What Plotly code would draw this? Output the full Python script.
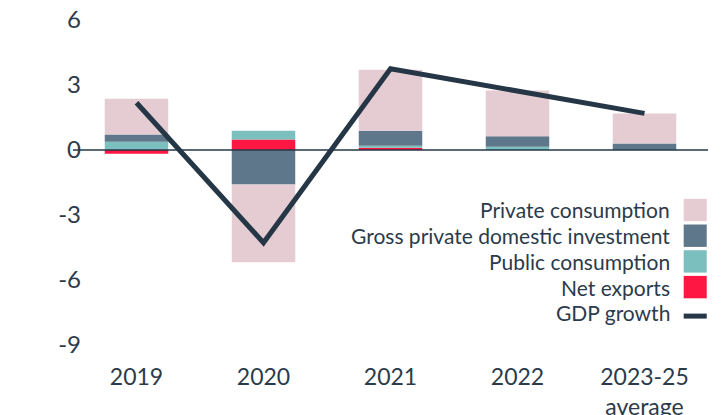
import plotly.graph_objects as go

categories = ['2019', '2020', '2021', '2022', '2023-25<br>average']

net_exports = [-0.17, 0.48, 0.10, 0.00, 0.00]
public_consumption = [0.38, 0.41, 0.10, 0.15, 0.01]
investment = [0.33, -1.59, 0.69, 0.48, 0.29]
private_consumption = [1.66, -3.59, 2.81, 2.12, 1.39]
gdp_growth = [2.18, -4.28, 3.75, 2.72, 1.69]

y_ticks = [-9, -6, -3, 0, 3, 6]
y_tick_text = ['-9', '-6', '-3', '0', '3', '6']

legend_labels = ['Private consumption', 'Gross private domestic investment',
                 'Public consumption', 'Net exports', 'GDP growth']

PINK = '#e5ccd3'
SLATE = '#5f778a'
TEAL = '#7bc0bf'
RED = '#ff1744'
DARK = '#253746'
TEXT = '#2b3b4b'
FONT = 'Lato'

fig = go.Figure()
for name, vals, col in [('Net exports', net_exports, RED),
                        ('Public consumption', public_consumption, TEAL),
                        ('Gross private domestic investment', investment, SLATE),
                        ('Private consumption', private_consumption, PINK)]:
    fig.add_trace(go.Bar(x=categories, y=vals, name=name, marker_color=col,
                         marker_line_width=0, width=0.5, showlegend=False))

fig.add_trace(go.Scatter(x=categories, y=gdp_growth, mode='lines', name='GDP growth',
                         line=dict(color=DARK, width=5), showlegend=False))

# zero line on top of the bars
fig.add_shape(type='line', xref='paper', yref='y', x0=0, x1=1, y0=0, y1=0,
              line=dict(color=DARK, width=1.5), layer='above')

# custom legend: text on the left, swatch on the right
# (page body has an 8px margin, so the figure is drawn 8px smaller and shifted)
plot_top, plot_h = 12, 325
swatches = [PINK, SLATE, TEAL, RED, DARK]
for i, (lab, col) in enumerate(zip(legend_labels, swatches)):
    py = 202 + i * 25.7
    yc = (plot_top + plot_h - py) / plot_h
    fig.add_annotation(x=0.944, y=yc, xref='paper', yref='paper', text=lab,
                       showarrow=False, xanchor='right', yanchor='middle',
                       font=dict(family=FONT, size=21, color=TEXT))
    if i < 4:
        fig.add_shape(type='rect', xref='paper', yref='paper', x0=0.9617, x1=0.998,
                      y0=yc - 11.2 / plot_h, y1=yc + 11.2 / plot_h,
                      fillcolor=col, line_width=0)
    else:
        fig.add_shape(type='line', xref='paper', yref='paper', x0=0.9617, x1=0.998,
                      y0=yc - 3.3 / plot_h, y1=yc - 3.3 / plot_h,
                      line=dict(color=col, width=5))

fig.update_layout(
    width=714, height=407,
    margin=dict(l=65, r=14, t=12, b=70, autoexpand=False),
    barmode='relative',
    plot_bgcolor='white', paper_bgcolor='white',
    font=dict(family=FONT, size=23, color=TEXT),
    xaxis=dict(showgrid=False, zeroline=False, showline=False, ticks='',
               automargin=False, ticklabelstandoff=16, ticklabeloverflow='allow',
               tickfont=dict(size=23), range=[-0.5, 4.5]),
    yaxis=dict(range=[-9, 6], tickvals=y_ticks, ticktext=y_tick_text,
               showgrid=False, automargin=False, ticklabeloverflow='allow',
               zeroline=False, showline=False, ticks='', ticklabelstandoff=-9,
               tickfont=dict(size=24)),
)

fig.write_html('out.html')
